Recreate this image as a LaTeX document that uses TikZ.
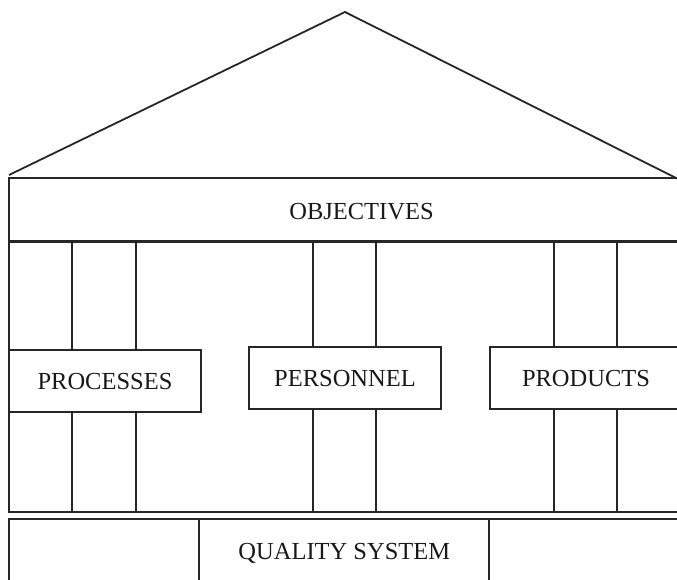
\documentclass[tikz,border=0pt]{standalone}
\usepackage{fontspec}
\setmainfont{Liberation Serif}
\begin{document}
\begin{tikzpicture}[x=1pt,y=-1pt,line width=2pt,
  ink/.style={draw=black!85},
  lbl/.style={font=\fontsize{24.5}{28}\selectfont, inner sep=0pt, anchor=base, text=black!90},
  pbox/.style={ink, fill=white, font=\fontsize{24.5}{28}\selectfont, inner sep=0pt,
    minimum height=62pt, text depth=0pt, text=black!90}]
\useasboundingbox (0,0) rectangle (677,580);
\clip (0,0) rectangle (677,580);
% roof
\coordinate (roofL) at (9,175);
\coordinate (apex) at (345,12);
\coordinate (roofR) at (678,179);
\draw[ink, line width=1.8pt] (roofL) -- (apex) -- (roofR);
% objectives band
\draw[ink] (9,178) rectangle (700,241);
\draw[ink, line width=3pt] (9,241.5) -- (700,241.5);
\node[lbl] (obj) at (361.5,219.3) {OBJECTIVES};
% column band
\draw[ink] (9,241) rectangle (700,512);
\foreach \px in {72,136,313,376,554,617}
  \draw[ink] (\px,241) -- (\px,512);
% pillar labels
\node[pbox, minimum width=192pt] (proc) at (105,381) {PROCESSES};
\node[pbox, minimum width=192pt] (pers) at (345,378) {PERSONNEL};
\node[pbox, minimum width=192pt] (prod) at (586,378) {PRODUCTS};
% foundation
\draw[ink] (9,519) rectangle (700,600);
\draw[ink] (199,519) -- (199,600);
\draw[ink] (489,519) -- (489,600);
\node[lbl] (qs) at (344.3,559) {QUALITY SYSTEM};
\end{tikzpicture}
\end{document}
